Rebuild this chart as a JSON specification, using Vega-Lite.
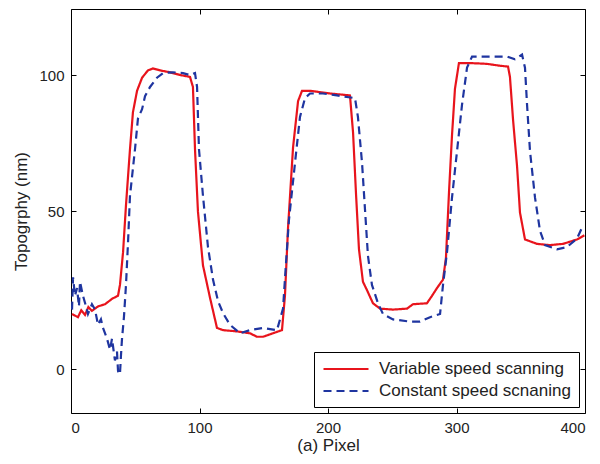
{
  "$schema": "https://vega.github.io/schema/vega-lite/v6.json",
  "autosize": "none",
  "padding": {"left": 71, "top": 9, "right": 15, "bottom": 51},
  "width": 514,
  "height": 404,
  "config": {
    "view": {"stroke": "#000", "strokeWidth": 1},
    "font": "Liberation Sans",
    "axis": {"grid": false, "domain": false, "tickColor": "#000", "tickSize": -5, "labelColor": "#222", "titleColor": "#222", "labelFontSize": 15, "titleFontSize": 17, "titleFontWeight": "normal", "labelFont": "Liberation Sans", "titleFont": "Liberation Sans"}
  },
  "datasets": {
    "d": [
      {"s": "Variable speed scanning", "x": 0.8, "y": 17.4},
      {"s": "Variable speed scanning", "x": 5.4, "y": 16.4},
      {"s": "Variable speed scanning", "x": 8.0, "y": 18.6},
      {"s": "Variable speed scanning", "x": 10.9, "y": 17.1},
      {"s": "Variable speed scanning", "x": 13.5, "y": 19.6},
      {"s": "Variable speed scanning", "x": 16.3, "y": 18.4},
      {"s": "Variable speed scanning", "x": 21.0, "y": 19.8},
      {"s": "Variable speed scanning", "x": 26.5, "y": 20.5},
      {"s": "Variable speed scanning", "x": 31.9, "y": 22.2},
      {"s": "Variable speed scanning", "x": 36.6, "y": 23.2},
      {"s": "Variable speed scanning", "x": 38.1, "y": 26.6},
      {"s": "Variable speed scanning", "x": 40.5, "y": 36.9},
      {"s": "Variable speed scanning", "x": 42.8, "y": 52.2},
      {"s": "Variable speed scanning", "x": 45.9, "y": 72.7},
      {"s": "Variable speed scanning", "x": 48.2, "y": 86.3},
      {"s": "Variable speed scanning", "x": 51.4, "y": 94.2},
      {"s": "Variable speed scanning", "x": 55.3, "y": 99.0},
      {"s": "Variable speed scanning", "x": 59.9, "y": 101.7},
      {"s": "Variable speed scanning", "x": 63.8, "y": 102.4},
      {"s": "Variable speed scanning", "x": 69.3, "y": 101.7},
      {"s": "Variable speed scanning", "x": 77.0, "y": 101.0},
      {"s": "Variable speed scanning", "x": 84.8, "y": 100.0},
      {"s": "Variable speed scanning", "x": 92.6, "y": 99.3},
      {"s": "Variable speed scanning", "x": 94.9, "y": 95.6},
      {"s": "Variable speed scanning", "x": 96.5, "y": 72.7},
      {"s": "Variable speed scanning", "x": 98.8, "y": 49.8},
      {"s": "Variable speed scanning", "x": 102.7, "y": 32.8},
      {"s": "Variable speed scanning", "x": 108.2, "y": 22.5},
      {"s": "Variable speed scanning", "x": 113.6, "y": 13.0},
      {"s": "Variable speed scanning", "x": 118.3, "y": 12.3},
      {"s": "Variable speed scanning", "x": 129.2, "y": 11.9},
      {"s": "Variable speed scanning", "x": 139.3, "y": 11.3},
      {"s": "Variable speed scanning", "x": 144.7, "y": 10.2},
      {"s": "Variable speed scanning", "x": 149.4, "y": 10.2},
      {"s": "Variable speed scanning", "x": 157.2, "y": 11.3},
      {"s": "Variable speed scanning", "x": 164.2, "y": 12.3},
      {"s": "Variable speed scanning", "x": 166.5, "y": 23.2},
      {"s": "Variable speed scanning", "x": 168.9, "y": 44.7},
      {"s": "Variable speed scanning", "x": 172.8, "y": 73.4},
      {"s": "Variable speed scanning", "x": 176.7, "y": 90.4},
      {"s": "Variable speed scanning", "x": 179.8, "y": 94.2},
      {"s": "Variable speed scanning", "x": 186.0, "y": 94.2},
      {"s": "Variable speed scanning", "x": 201.6, "y": 93.2},
      {"s": "Variable speed scanning", "x": 217.1, "y": 92.5},
      {"s": "Variable speed scanning", "x": 219.5, "y": 78.8},
      {"s": "Variable speed scanning", "x": 221.8, "y": 56.3},
      {"s": "Variable speed scanning", "x": 224.1, "y": 37.9},
      {"s": "Variable speed scanning", "x": 227.2, "y": 27.6},
      {"s": "Variable speed scanning", "x": 230.4, "y": 24.9},
      {"s": "Variable speed scanning", "x": 235.0, "y": 20.8},
      {"s": "Variable speed scanning", "x": 240.5, "y": 19.1},
      {"s": "Variable speed scanning", "x": 250.6, "y": 18.8},
      {"s": "Variable speed scanning", "x": 261.5, "y": 19.1},
      {"s": "Variable speed scanning", "x": 266.1, "y": 20.5},
      {"s": "Variable speed scanning", "x": 277.0, "y": 20.8},
      {"s": "Variable speed scanning", "x": 281.0, "y": 23.2},
      {"s": "Variable speed scanning", "x": 284.8, "y": 25.6},
      {"s": "Variable speed scanning", "x": 289.5, "y": 28.3},
      {"s": "Variable speed scanning", "x": 291.8, "y": 35.2},
      {"s": "Variable speed scanning", "x": 294.2, "y": 57.3},
      {"s": "Variable speed scanning", "x": 296.5, "y": 77.8},
      {"s": "Variable speed scanning", "x": 298.8, "y": 94.9},
      {"s": "Variable speed scanning", "x": 301.9, "y": 104.4},
      {"s": "Variable speed scanning", "x": 310.5, "y": 104.4},
      {"s": "Variable speed scanning", "x": 323.7, "y": 104.1},
      {"s": "Variable speed scanning", "x": 333.9, "y": 103.4},
      {"s": "Variable speed scanning", "x": 340.1, "y": 103.1},
      {"s": "Variable speed scanning", "x": 341.6, "y": 99.3},
      {"s": "Variable speed scanning", "x": 344.0, "y": 83.6},
      {"s": "Variable speed scanning", "x": 347.1, "y": 66.6},
      {"s": "Variable speed scanning", "x": 349.4, "y": 49.5},
      {"s": "Variable speed scanning", "x": 353.3, "y": 41.0},
      {"s": "Variable speed scanning", "x": 362.6, "y": 39.6},
      {"s": "Variable speed scanning", "x": 372.8, "y": 39.2},
      {"s": "Variable speed scanning", "x": 382.9, "y": 39.6},
      {"s": "Variable speed scanning", "x": 393.8, "y": 41.0},
      {"s": "Variable speed scanning", "x": 399.5, "y": 42.3},
      {"s": "Constant speed scnaning", "x": 0.8, "y": 18.8},
      {"s": "Constant speed scnaning", "x": 1.6, "y": 29.0},
      {"s": "Constant speed scnaning", "x": 3.1, "y": 23.2},
      {"s": "Constant speed scnaning", "x": 4.7, "y": 25.6},
      {"s": "Constant speed scnaning", "x": 6.2, "y": 19.8},
      {"s": "Constant speed scnaning", "x": 7.0, "y": 27.6},
      {"s": "Constant speed scnaning", "x": 9.3, "y": 23.2},
      {"s": "Constant speed scnaning", "x": 11.7, "y": 19.8},
      {"s": "Constant speed scnaning", "x": 13.2, "y": 17.4},
      {"s": "Constant speed scnaning", "x": 16.3, "y": 20.5},
      {"s": "Constant speed scnaning", "x": 18.7, "y": 18.8},
      {"s": "Constant speed scnaning", "x": 21.0, "y": 14.0},
      {"s": "Constant speed scnaning", "x": 23.3, "y": 15.7},
      {"s": "Constant speed scnaning", "x": 24.9, "y": 13.0},
      {"s": "Constant speed scnaning", "x": 28.0, "y": 9.6},
      {"s": "Constant speed scnaning", "x": 30.4, "y": 6.1},
      {"s": "Constant speed scnaning", "x": 31.9, "y": 9.6},
      {"s": "Constant speed scnaning", "x": 32.7, "y": 7.2},
      {"s": "Constant speed scnaning", "x": 34.2, "y": 2.7},
      {"s": "Constant speed scnaning", "x": 35.8, "y": 5.5},
      {"s": "Constant speed scnaning", "x": 36.6, "y": -0.7},
      {"s": "Constant speed scnaning", "x": 38.1, "y": -1.7},
      {"s": "Constant speed scnaning", "x": 38.9, "y": 4.4},
      {"s": "Constant speed scnaning", "x": 39.7, "y": 9.6},
      {"s": "Constant speed scnaning", "x": 41.2, "y": 16.4},
      {"s": "Constant speed scnaning", "x": 42.8, "y": 26.6},
      {"s": "Constant speed scnaning", "x": 44.4, "y": 40.3},
      {"s": "Constant speed scnaning", "x": 45.9, "y": 55.6},
      {"s": "Constant speed scnaning", "x": 49.8, "y": 72.7},
      {"s": "Constant speed scnaning", "x": 52.1, "y": 84.0},
      {"s": "Constant speed scnaning", "x": 55.3, "y": 87.4},
      {"s": "Constant speed scnaning", "x": 57.6, "y": 92.2},
      {"s": "Constant speed scnaning", "x": 61.5, "y": 95.6},
      {"s": "Constant speed scnaning", "x": 66.9, "y": 99.0},
      {"s": "Constant speed scnaning", "x": 71.6, "y": 100.7},
      {"s": "Constant speed scnaning", "x": 79.4, "y": 101.0},
      {"s": "Constant speed scnaning", "x": 87.2, "y": 100.7},
      {"s": "Constant speed scnaning", "x": 92.6, "y": 100.0},
      {"s": "Constant speed scnaning", "x": 96.5, "y": 100.7},
      {"s": "Constant speed scnaning", "x": 98.1, "y": 95.6},
      {"s": "Constant speed scnaning", "x": 99.6, "y": 72.7},
      {"s": "Constant speed scnaning", "x": 102.7, "y": 55.6},
      {"s": "Constant speed scnaning", "x": 106.6, "y": 38.6},
      {"s": "Constant speed scnaning", "x": 110.5, "y": 28.3},
      {"s": "Constant speed scnaning", "x": 114.4, "y": 21.5},
      {"s": "Constant speed scnaning", "x": 118.3, "y": 17.7},
      {"s": "Constant speed scnaning", "x": 123.7, "y": 14.0},
      {"s": "Constant speed scnaning", "x": 131.5, "y": 11.3},
      {"s": "Constant speed scnaning", "x": 139.3, "y": 12.3},
      {"s": "Constant speed scnaning", "x": 149.4, "y": 13.0},
      {"s": "Constant speed scnaning", "x": 160.3, "y": 12.3},
      {"s": "Constant speed scnaning", "x": 165.0, "y": 19.1},
      {"s": "Constant speed scnaning", "x": 167.3, "y": 33.4},
      {"s": "Constant speed scnaning", "x": 169.6, "y": 47.1},
      {"s": "Constant speed scnaning", "x": 174.3, "y": 67.6},
      {"s": "Constant speed scnaning", "x": 178.2, "y": 84.6},
      {"s": "Constant speed scnaning", "x": 182.1, "y": 91.5},
      {"s": "Constant speed scnaning", "x": 186.0, "y": 93.2},
      {"s": "Constant speed scnaning", "x": 196.1, "y": 93.2},
      {"s": "Constant speed scnaning", "x": 207.0, "y": 92.5},
      {"s": "Constant speed scnaning", "x": 221.0, "y": 91.5},
      {"s": "Constant speed scnaning", "x": 223.3, "y": 84.6},
      {"s": "Constant speed scnaning", "x": 226.5, "y": 67.6},
      {"s": "Constant speed scnaning", "x": 228.8, "y": 50.5},
      {"s": "Constant speed scnaning", "x": 231.1, "y": 35.8},
      {"s": "Constant speed scnaning", "x": 234.2, "y": 26.6},
      {"s": "Constant speed scnaning", "x": 238.9, "y": 20.8},
      {"s": "Constant speed scnaning", "x": 242.8, "y": 17.4},
      {"s": "Constant speed scnaning", "x": 250.6, "y": 15.7},
      {"s": "Constant speed scnaning", "x": 263.8, "y": 15.0},
      {"s": "Constant speed scnaning", "x": 271.6, "y": 15.0},
      {"s": "Constant speed scnaning", "x": 279.4, "y": 16.4},
      {"s": "Constant speed scnaning", "x": 287.2, "y": 17.4},
      {"s": "Constant speed scnaning", "x": 289.5, "y": 26.6},
      {"s": "Constant speed scnaning", "x": 292.6, "y": 36.9},
      {"s": "Constant speed scnaning", "x": 296.5, "y": 54.9},
      {"s": "Constant speed scnaning", "x": 300.4, "y": 72.0},
      {"s": "Constant speed scnaning", "x": 304.3, "y": 89.1},
      {"s": "Constant speed scnaning", "x": 308.2, "y": 102.7},
      {"s": "Constant speed scnaning", "x": 312.1, "y": 106.8},
      {"s": "Constant speed scnaning", "x": 323.7, "y": 106.8},
      {"s": "Constant speed scnaning", "x": 339.3, "y": 106.8},
      {"s": "Constant speed scnaning", "x": 345.5, "y": 105.8},
      {"s": "Constant speed scnaning", "x": 351.0, "y": 107.5},
      {"s": "Constant speed scnaning", "x": 353.3, "y": 102.7},
      {"s": "Constant speed scnaning", "x": 354.9, "y": 89.1},
      {"s": "Constant speed scnaning", "x": 357.2, "y": 72.0},
      {"s": "Constant speed scnaning", "x": 361.1, "y": 54.9},
      {"s": "Constant speed scnaning", "x": 365.0, "y": 43.7},
      {"s": "Constant speed scnaning", "x": 368.9, "y": 39.2},
      {"s": "Constant speed scnaning", "x": 378.2, "y": 37.9},
      {"s": "Constant speed scnaning", "x": 386.0, "y": 38.6},
      {"s": "Constant speed scnaning", "x": 393.8, "y": 41.3},
      {"s": "Constant speed scnaning", "x": 398.4, "y": 45.4}
    ]
  },
  "data": {"name": "d"},
  "layer": [
    {
      "mark": {"type": "line", "strokeWidth": 2.2, "clip": true},
      "encoding": {
        "x": {"field": "x", "type": "quantitative", "scale": {"domain": [0, 400], "nice": false, "zero": false}, "axis": {"values": [0, 100, 200, 300, 400], "title": "(a) Pixel", "labelPadding": 12, "titlePadding": 2, "titleFontSize": 17, "labelFontSize": 15}},
        "y": {"field": "y", "type": "quantitative", "scale": {"domain": [-13.9, 0, 50, 100, 124.3], "range": [404, 360, 202, 66, 0], "nice": false, "zero": false}, "axis": {"values": [0, 50, 100], "title": "Topogrphy (nm)", "labelPadding": 12, "titlePadding": 8, "titleFontSize": 17, "labelFontSize": 15}},
        "color": {"field": "s", "type": "nominal", "sort": ["Variable speed scanning", "Constant speed scnaning"], "scale": {"domain": ["Variable speed scanning", "Constant speed scnaning"], "range": ["#e8141c", "#1f35a0"]}, "legend": {"title": null, "orient": "bottom-right", "offset": 6, "symbolType": "M-2.8125,0H2.8125", "symbolSize": 256, "symbolStrokeWidth": 2, "symbolOffset": 15, "labelOffset": 24, "labelFontSize": 17, "labelLimit": 0, "labelColor": "#222", "labelFont": "Liberation Sans", "strokeColor": "#000", "fillColor": "#fff", "padding": 8, "rowPadding": 5}},
        "strokeDash": {"field": "s", "type": "nominal", "sort": ["Variable speed scanning", "Constant speed scnaning"], "scale": {"domain": ["Variable speed scanning", "Constant speed scnaning"], "range": [[1, 0], [8, 5]]}, "legend": null}
      }
    },
    {
      "mark": {"type": "line", "opacity": 0},
      "encoding": {
        "x": {"field": "x", "type": "quantitative", "scale": {"domain": [0, 400], "nice": false, "zero": false}, "axis": {"orient": "top", "values": [0, 100, 200, 300, 400], "labels": false, "title": null}},
        "y": {"field": "y", "type": "quantitative", "scale": {"domain": [-13.9, 0, 50, 100, 124.3], "range": [404, 360, 202, 66, 0], "nice": false, "zero": false}, "axis": {"orient": "right", "values": [0, 50, 100], "labels": false, "title": null}},
        "detail": {"field": "s"}
      }
    }
  ],
  "resolve": {"axis": {"x": "independent", "y": "independent"}}
}
